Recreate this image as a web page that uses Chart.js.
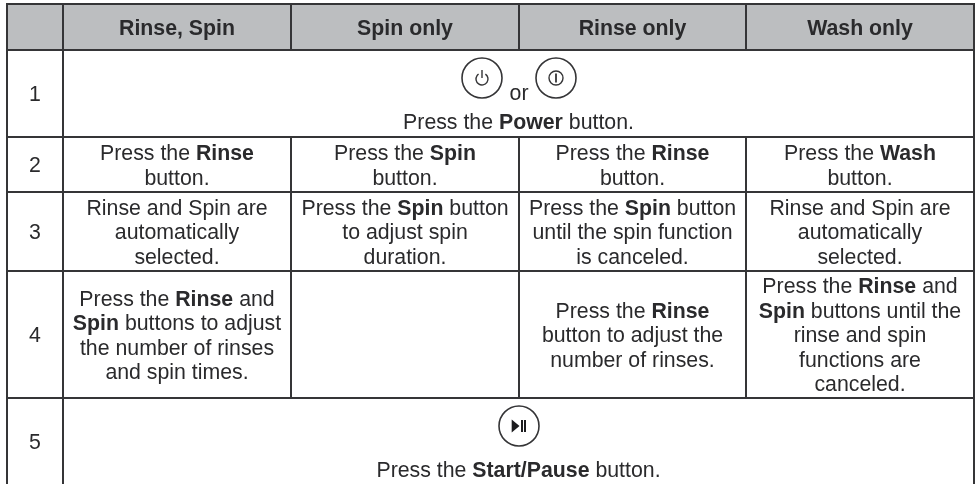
<!DOCTYPE html>
<html>
<head>
<meta charset="utf-8">
<style>
  html, body { margin: 0; padding: 0; background: #fff; }
  #washTable { display: block; }
</style>
<script src="https://cdn.jsdelivr.net/npm/chart.js@4/dist/chart.umd.min.js"></script>
</head>
<body>
<canvas id="washTable" width="978" height="484"></canvas>
<script>
// Table content. **word** marks bold runs.
const columnHeaders = ['Rinse, Spin', 'Spin only', 'Rinse only', 'Wash only'];
const stepLabels = ['1', '2', '3', '4', '5'];

const rinseSpinCells = [
    ['Press the **Rinse**', 'button.'],
    ['Rinse and Spin are', 'automatically', 'selected.'],
    ['Press the **Rinse** and', '**Spin** buttons to adjust', 'the number of rinses', 'and spin times.']
];
const spinOnlyCells = [
    ['Press the **Spin**', 'button.'],
    ['Press the **Spin** button', 'to adjust spin', 'duration.'],
    []
];
const rinseOnlyCells = [
    ['Press the **Rinse**', 'button.'],
    ['Press the **Spin** button', 'until the spin function', 'is canceled.'],
    ['Press the **Rinse**', 'button to adjust the', 'number of rinses.']
];
const washOnlyCells = [
    ['Press the **Wash**', 'button.'],
    ['Rinse and Spin are', 'automatically', 'selected.'],
    ['Press the **Rinse** and', '**Spin** buttons until the', 'rinse and spin', 'functions are', 'canceled.']
];
const powerNote = 'Press the **Power** button.';
const startNote = 'Press the **Start/Pause** button.';

// Table geometry on the chart's scales
const columnEdges = [7, 63, 291, 519, 746, 974];
const rowEdges = [4, 50, 137, 192, 271, 398, 484];

const FONT_FAMILY = '"Liberation Sans", Arial, sans-serif';
const FONT_SIZE = 21.3;
const LINE_HEIGHT = 24.5;
const BASELINE_SHIFT = 7.8;
const TEXT_COLOR = '#2a2a2c';
const LINE_COLOR = '#353537';
const HEADER_FILL = '#bcbec0';

function segment(x1, y1, x2, y2) {
    return {
        type: 'scatter',
        data: [{ x: x1, y: y1 }, { x: x2, y: y2 }],
        showLine: true,
        borderColor: LINE_COLOR,
        borderWidth: 2,
        borderCapStyle: 'square',
        pointRadius: 0,
        order: 1
    };
}

function buildGridLines() {
    const lines = [];
    const left = columnEdges[0];
    const right = columnEdges[columnEdges.length - 1];
    rowEdges.slice(0, 6).forEach(y => lines.push(segment(left, y, right, y)));

    const top = rowEdges[0];
    const bottom = rowEdges[6];
    [columnEdges[0], columnEdges[1], columnEdges[5]].forEach(x => lines.push(segment(x, top, x, bottom)));

    // Inner column lines stop at the merged rows 1 and 5
    [columnEdges[2], columnEdges[3], columnEdges[4]].forEach(x => {
        lines.push(segment(x, rowEdges[0], x, rowEdges[1]));
        lines.push(segment(x, rowEdges[2], x, rowEdges[5]));
    });
    return lines;
}

// Higher order is drawn first, the grey band has to stay under the grid
const headerBand = {
    type: 'line',
    data: [{ x: columnEdges[0], y: rowEdges[0] }, { x: columnEdges[5], y: rowEdges[0] }],
    borderWidth: 0,
    pointRadius: 0,
    backgroundColor: HEADER_FILL,
    fill: { target: { value: rowEdges[1] } },
    order: 2
};

const buttonCircles = {
    type: 'scatter',
    data: [{ x: 482, y: 78 }, { x: 556, y: 78 }, { x: 519, y: 426 }],
    pointStyle: 'circle',
    pointRadius: 20,
    pointBorderWidth: 1.6,
    pointBorderColor: LINE_COLOR,
    pointBackgroundColor: 'rgba(0,0,0,0)',
    order: 0
};

function drawRichLine(ctx, text, centerX, baseline) {
    const runs = text.split('**').map((part, i) => ({ part, bold: i % 2 === 1 }));
    let width = 0;
    runs.forEach(run => {
        ctx.font = `${run.bold ? 'bold ' : ''}${FONT_SIZE}px ${FONT_FAMILY}`;
        run.width = ctx.measureText(run.part).width;
        width += run.width;
    });
    let x = centerX - width / 2;
    runs.forEach(run => {
        ctx.font = `${run.bold ? 'bold ' : ''}${FONT_SIZE}px ${FONT_FAMILY}`;
        ctx.fillText(run.part, x, baseline);
        x += run.width;
    });
}

function drawCell(ctx, lines, centerX, centerY) {
    lines.forEach((line, i) => {
        const offset = (i - (lines.length - 1) / 2) * LINE_HEIGHT;
        drawRichLine(ctx, line, centerX, centerY + offset + BASELINE_SHIFT);
    });
}

const tableTextPlugin = {
    id: 'tableText',
    afterDatasetsDraw(chart) {
        const { ctx, scales: { x, y } } = chart;
        const colCenter = i => x.getPixelForValue((columnEdges[i] + columnEdges[i + 1]) / 2);
        const rowCenter = i => y.getPixelForValue((rowEdges[i] + rowEdges[i + 1]) / 2);

        ctx.save();
        ctx.fillStyle = TEXT_COLOR;
        ctx.textBaseline = 'alphabetic';
        ctx.textAlign = 'left';

        columnHeaders.forEach((label, i) => drawCell(ctx, ['**' + label + '**'], colCenter(i + 1), rowCenter(0)));
        stepLabels.forEach((label, i) => drawCell(ctx, [label], colCenter(0), rowCenter(i + 1)));

        // Steps 2-4 sit in rows 2-4 of rowEdges (row 0 is the header)
        [rinseSpinCells, spinOnlyCells, rinseOnlyCells, washOnlyCells].forEach((cells, col) => {
            cells.forEach((lines, row) => drawCell(ctx, lines, colCenter(col + 1), rowCenter(row + 2)));
        });

        const tableMiddle = x.getPixelForValue((columnEdges[1] + columnEdges[5]) / 2);
        drawRichLine(ctx, powerNote, tableMiddle, y.getPixelForValue(129));
        drawRichLine(ctx, startNote, tableMiddle, y.getPixelForValue(477));
        drawRichLine(ctx, 'or', x.getPixelForValue(519), y.getPixelForValue(100));

        // Glyphs inside the round buttons
        const circles = buttonCircles.data;
        ctx.strokeStyle = LINE_COLOR;
        ctx.lineWidth = 1.4;

        const px = x.getPixelForValue(circles[0].x);
        const py = y.getPixelForValue(circles[0].y);
        ctx.beginPath();
        ctx.arc(px, py + 1, 6, -Math.PI / 2 + 0.6, -Math.PI / 2 - 0.6);
        ctx.moveTo(px, py - 8);
        ctx.lineTo(px, py);
        ctx.stroke();

        const qx = x.getPixelForValue(circles[1].x);
        const qy = y.getPixelForValue(circles[1].y);
        ctx.beginPath();
        ctx.arc(qx, qy, 7, 0, Math.PI * 2);
        ctx.stroke();
        ctx.lineWidth = 1.8;
        ctx.beginPath();
        ctx.moveTo(qx, qy - 4.5);
        ctx.lineTo(qx, qy + 4.5);
        ctx.stroke();

        const sx = x.getPixelForValue(circles[2].x);
        const sy = y.getPixelForValue(circles[2].y);
        ctx.fillStyle = '#1c1c1e';
        ctx.beginPath();
        ctx.moveTo(sx - 7.3, sy - 6.5);
        ctx.lineTo(sx + 0.5, sy);
        ctx.lineTo(sx - 7.3, sy + 6.5);
        ctx.closePath();
        ctx.fill();
        ctx.fillRect(sx + 2, sy - 6, 2, 12);
        ctx.fillRect(sx + 5, sy - 6, 2, 12);
        ctx.restore();
    }
};

new Chart(document.getElementById('washTable'), {
    data: { datasets: [headerBand, ...buildGridLines(), buttonCircles] },
    plugins: [tableTextPlugin],
    options: {
        responsive: false,
        animation: false,
        layout: { padding: 0, autoPadding: false },
        plugins: { legend: { display: false }, tooltip: { enabled: false } },
        scales: {
            x: { type: 'linear', min: 0, max: 978, display: false },
            y: { type: 'linear', min: 0, max: 484, reverse: true, display: false }
        }
    }
});
</script>
</body>
</html>
